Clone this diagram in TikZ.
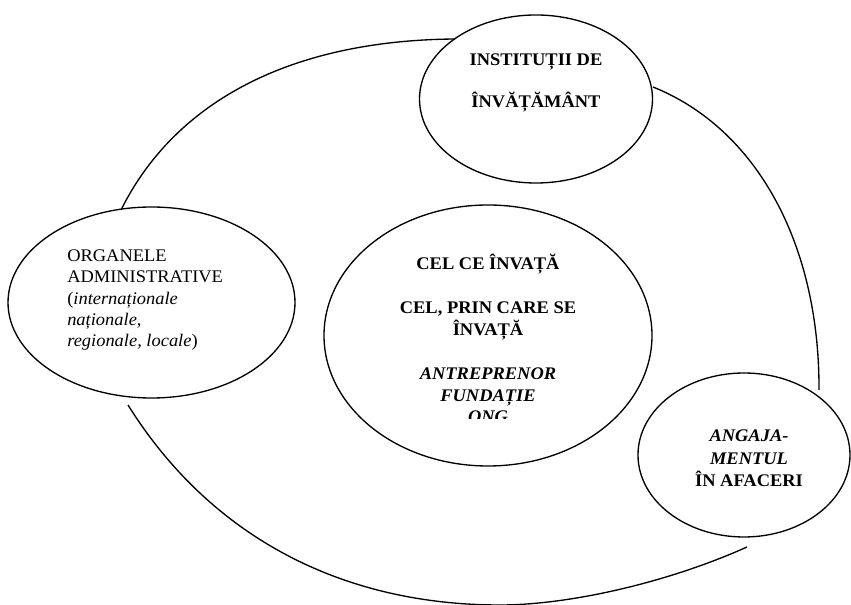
\documentclass[tikz,border=0pt]{standalone}
\usepackage{fontspec}
\setmainfont{Liberation Serif}[FakeStretch=1.04]
\usetikzlibrary{shapes.geometric}
\begin{document}
\begin{tikzpicture}[x=0.75pt,y=-0.75pt,
  bubble/.style={draw, ellipse, line width=1pt, inner sep=0pt, fill=white},
  rim/.style={line width=1pt},
  lbl/.style={inner sep=0pt, anchor=base, font=\fontsize{13.3}{16.4}\selectfont},
]
\useasboundingbox (0,0) rectangle (851,605);

% bubbles
\node[bubble, minimum width=174.75pt, minimum height=126pt] (inst) at (536,99) {};
\node[bubble, minimum width=215.25pt, minimum height=143.25pt] (admin) at (151.5,302.5) {};
\node[bubble, minimum width=246pt, minimum height=195.75pt] (core) at (488,335.5) {};
\node[bubble, minimum width=159pt, minimum height=123pt] (biz) at (744,455) {};

% outer ring: three open arcs running between the bubbles
\coordinate (r1) at (121,210);  \coordinate (r2) at (455,39);
\coordinate (r3) at (653,87);   \coordinate (r4) at (819,390);
\coordinate (r5) at (128,405);  \coordinate (r6) at (500,605);
\coordinate (r7) at (747,547);
\draw[rim] (r1) .. controls (175.6,100.2) and (292.5,40.3) .. (r2);
\draw[rim] (r3) .. controls (756.5,128.5) and (819.6,243.7) .. (r4);
\draw[rim] (r5) .. controls (209.3,535) and (339.5,605) .. (r6)
               .. controls (570.8,605) and (669.6,581.8) .. (r7);

% texts (base anchor = baseline of the last line)
\node[lbl, align=center, font=\fontsize{13.3}{32.2}\selectfont\bfseries] (instT) at (536,108)
  {INSTITUȚII DE\\ÎNVĂȚĂMÂNT};
\node[lbl, align=left, anchor=base west, font=\fontsize{13.3}{16.1}\selectfont] (adminT) at (67,347)
  {ORGANELE\\ADMINISTRATIVE\\(\textit{internaționale}\\\textit{naționale,}\\\textit{regionale, locale})};
\begin{scope}
  \clip (330,230) rectangle (650,419);
  \node[lbl, align=center, font=\fontsize{13.3}{16.4}\selectfont\bfseries] (coreT) at (488,423)
    {CEL CE ÎNVAȚĂ\\[16.4pt]CEL, PRIN CARE SE\\ÎNVAȚĂ\\[16.4pt]\textit{ANTREPRENOR}\\\textit{FUNDAȚIE}\\\textit{ONG}};
\end{scope}
\node[lbl, align=center, font=\fontsize{13.3}{17.2}\selectfont\bfseries] (bizT) at (749,487)
  {\textit{ANGAJA-}\\\textit{MENTUL}\\ÎN AFACERI};
\end{tikzpicture}
\end{document}
